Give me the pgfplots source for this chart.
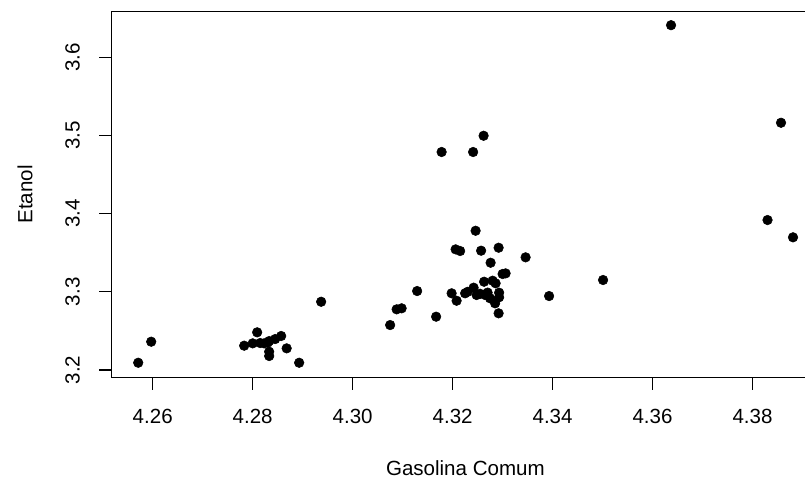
\documentclass[border=0pt]{standalone}
\usepackage{fontspec}
\setmainfont{Liberation Sans}
\usepackage{pgfplots}
\pgfplotsset{compat=1.18}
\newcommand{\fs}{\fontsize{15.4}{18}\selectfont}
\begin{document}
\begin{tikzpicture}
\useasboundingbox (-83.8pt,-77pt) rectangle (520pt,283pt);
\clip (-83.8pt,-77pt) rectangle (520pt,283pt);
\begin{axis}[
  at={(0,0)}, anchor=south west,
  scale only axis,
  width=530.5pt, height=274.2pt,
  xmin=4.2518, xmax=4.3933,
  ymin=3.19066, ymax=3.6582,
  xtick={4.26,4.28,4.30,4.32,4.34,4.36,4.38},
  ytick={3.2,3.3,3.4,3.5,3.6},
  xtick pos=left, ytick pos=left,
  tick align=outside,
  major tick length=9.5pt,
  tick style={black, line width=0.9pt},
  axis line style={black, line width=0.9pt},
  /pgf/number format/assume math mode=true,
  xticklabel style={/pgf/number format/.cd, fixed, fixed zerofill, precision=2, /tikz/.cd, font=\fs, anchor=north, inner sep=0pt},
  yticklabel style={/pgf/number format/.cd, fixed, fixed zerofill, precision=1, /tikz/.cd, font=\fs, rotate=90, anchor=south, inner sep=0pt},
  xticklabel shift=14.5pt,
  yticklabel shift=14.2pt,
  xlabel={Gasolina Comum},
  ylabel={Etanol},
  xlabel style={font=\fs, at={(axis description cs:0.5,-0.248)}, anchor=center, inner sep=0pt},
  ylabel style={font=\fs, at={(axis description cs:-0.1225,0.5)}, anchor=center, inner sep=0pt},
  clip=false,
]
\addplot[only marks, mark=*, mark size=3.6pt, black] coordinates {
(4.2571,3.2093) (4.2597,3.2362) (4.2809,3.2482) (4.2783,3.2311) (4.2800,3.2341)
(4.2823,3.2341) (4.2833,3.2370) (4.2845,3.2396) (4.2857,3.2435) (4.2833,3.2234)
(4.2833,3.2179) (4.2868,3.2277) (4.2893,3.2093) (4.2937,3.2873) (4.3075,3.2575)
(4.3088,3.2776) (4.3098,3.2789) (4.3129,3.3010) (4.3167,3.2682) (4.3178,3.4788)
(4.3241,3.4788) (4.3262,3.4996) (4.3246,3.3781) (4.3206,3.3543) (4.3215,3.3522)
(4.3257,3.3526) (4.3292,3.3564) (4.3346,3.3441) (4.3276,3.3372) (4.3300,3.3228)
(4.3306,3.3236) (4.3263,3.3129) (4.3280,3.3142) (4.3286,3.3109) (4.3242,3.3053)
(4.3198,3.2981) (4.3225,3.2981) (4.3208,3.2886) (4.3248,3.2959) (4.3265,3.2959)
(4.3293,3.2989) (4.3293,3.2930) (4.3275,3.2917) (4.3285,3.2853) (4.3292,3.2725)
(4.3393,3.2946) (4.3501,3.3151) (4.3637,3.6410) (4.3857,3.5162) (4.3830,3.3918)
(4.3881,3.3697) (4.3255,3.2975) (4.3270,3.2990) (4.3230,3.3000) (4.2830,3.2350)
(4.2815,3.2345)
};
\end{axis}
\end{tikzpicture}
\end{document}
